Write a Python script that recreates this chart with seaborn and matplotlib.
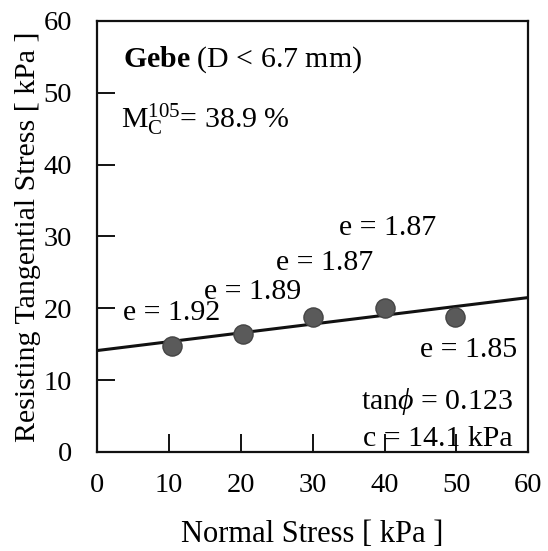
# Direct shear result for Gebe (D < 6.7 mm)
import numpy as np
import pandas as pd
import seaborn as sns
import matplotlib.pyplot as plt

sns.set_style('ticks')
plt.rcParams['font.family'] = ['Liberation Serif', 'DejaVu Serif']
plt.rcParams['mathtext.fontset'] = 'custom'
plt.rcParams['mathtext.rm'] = 'Liberation Serif'
plt.rcParams['mathtext.it'] = 'Liberation Serif:italic'
plt.rcParams['mathtext.bf'] = 'Liberation Serif:bold'
plt.rcParams['text.color'] = 'black'
plt.rcParams['axes.labelcolor'] = 'black'
plt.rcParams['xtick.color'] = 'black'
plt.rcParams['ytick.color'] = 'black'

# data
normal_stress = [10.4, 20.3, 30.1, 40.0, 49.8]
tangential_stress = [14.8, 16.4, 18.8, 20.0, 18.8]
void_ratio = ['1.92', '1.89', '1.87', '1.87', '1.85']
label_x = [10.4, 21.7, 31.6, 40.4, 51.7]
label_y = [19.3, 22.3, 26.3, 31.2, 14.2]
cohesion = 14.1
tan_phi = 0.123
ticks = [0, 10, 20, 30, 40, 50, 60]

df = pd.DataFrame({'sigma': normal_stress, 'tau': tangential_stress})
fit = pd.DataFrame({'sigma': [0, 60]})
fit['tau'] = cohesion + tan_phi * fit['sigma']

fig = plt.figure(figsize=(5.48, 5.51), dpi=100)
ax = fig.add_axes([0.177, 0.18, 0.787, 0.782])

sns.lineplot(data=fit, x='sigma', y='tau', color='#111111', lw=2.2, ax=ax)
sns.scatterplot(data=df, x='sigma', y='tau', s=190, color='#5a5a5a',
                edgecolor='#444444', linewidth=1, ax=ax, zorder=5)

fs = 21.5
for x, y, e in zip(label_x, label_y, void_ratio):
    ax.text(x, y, f'e = {e}', fontsize=fs, ha='center', va='center')

ax.text(3.6, 54.6, r'$\mathbf{Gebe}$ (D < 6.7 mm)', fontsize=21.5, va='center')
ax.text(3.3, 46.3, r'M$_{\mathrm{C}}^{105}$= 38.9 %', fontsize=fs, va='center')
ax.text(57.8, 7.0, r'tan$\it{\phi}$ = ' + f'{tan_phi}', fontsize=fs,
        ha='right', va='center')
ax.text(57.8, 1.8, f'c = {cohesion} kPa', fontsize=fs, ha='right', va='center')

ax.set_xlim(0, 60)
ax.set_ylim(0, 60)
ax.set_xticks(ticks)
ax.set_yticks(ticks)
ax.tick_params(direction='in', length=13, width=1.3, labelsize=20.5)
ax.tick_params(axis='x', pad=15)
ax.tick_params(axis='y', pad=18)
for s in ax.spines.values():
    s.set_linewidth(1.6)
    s.set_color('#111111')
ax.set_xlabel('Normal Stress [ kPa ]', fontsize=22, labelpad=16)
ax.set_ylabel('Resisting Tangential Stress [ kPa ]', fontsize=21.5, labelpad=2)

fig.savefig('out.png', dpi=100)
